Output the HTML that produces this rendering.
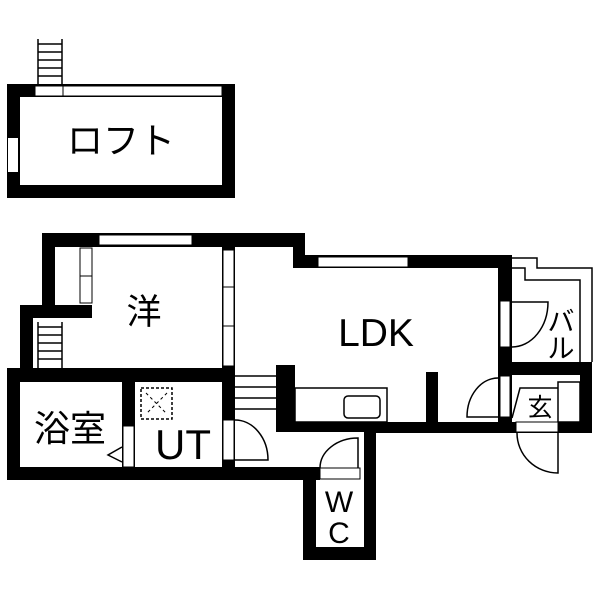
<!DOCTYPE html>
<html><head><style>body{margin:0;background:#fff}svg{display:block}text{font-family:"Liberation Sans","Noto Sans CJK JP",sans-serif;fill:#000}</style></head><body>
<svg width="600" height="600" viewBox="0 0 600 600" xmlns="http://www.w3.org/2000/svg">
<rect width="600" height="600" fill="#fff"/>
<!-- Loft -->
<rect x="7" y="84" width="228" height="114" fill="#000"/>
<rect x="20" y="97" width="202" height="88" fill="#fff"/>
<rect x="35" y="86" width="187" height="10" fill="#fff" stroke="#000" stroke-width="1"/>
<line x1="63" y1="86" x2="63" y2="96" stroke="#000"/>
<rect x="8" y="138" width="10" height="34" fill="#fff"/>
<g stroke="#000" stroke-width="1.5"><line x1="38" y1="39" x2="38" y2="85"/><line x1="62" y1="39" x2="62" y2="85"/>
<line x1="38" y1="44" x2="62" y2="44"/><line x1="38" y1="52" x2="62" y2="52"/><line x1="38" y1="60" x2="62" y2="60"/><line x1="38" y1="68" x2="62" y2="68"/><line x1="38" y1="76" x2="62" y2="76"/></g>
<text x="121" y="153" font-size="36" text-anchor="middle">ロフト</text>

<path d="M42 233 H305 V255 H512 V362 H592 V433 H376 V560 H303 V480 H7 V368 H20 V305 H42 Z" fill="#000"/>
<rect x="55" y="247" width="37" height="58" fill="#fff"/>
<rect x="33" y="318" width="189" height="50" fill="#fff"/>
<rect x="92" y="247" width="130" height="121" fill="#fff"/>
<rect x="20" y="382" width="102" height="85" fill="#fff"/>
<rect x="135" y="382" width="87" height="85" fill="#fff"/>
<rect x="235" y="247" width="58" height="118" fill="#fff"/>
<rect x="235" y="268" width="263" height="97" fill="#fff"/>
<rect x="295" y="365" width="203" height="57" fill="#fff"/>
<rect x="235" y="365" width="41" height="67" fill="#fff"/>
<rect x="235" y="432" width="129" height="35" fill="#fff"/>
<rect x="320" y="467" width="44" height="13" fill="#fff"/>
<rect x="316" y="480" width="48" height="67" fill="#fff"/>
<rect x="512" y="268" width="80" height="94" fill="#fff"/>
<rect x="512" y="375" width="68" height="47" fill="#fff"/>
<rect x="426" y="372" width="12" height="50" fill="#000"/>
<rect x="505" y="250" width="95" height="18" fill="#fff"/>
<path d="M498 258 H537 V268 H592 V362" fill="none" stroke="#000" stroke-width="1.5"/>
<path d="M512 268 H525 V280 H580 V362" fill="none" stroke="#000" stroke-width="1.5"/>
<rect x="498" y="255" width="14" height="13" fill="#000"/>
<rect x="99" y="235" width="93" height="10" fill="#fff" stroke="#000"/>
<rect x="318" y="257" width="90" height="10" fill="#fff" stroke="#000"/>
<rect x="80" y="248" width="12" height="55" fill="#fff" stroke="#000"/><line x1="80" y1="276" x2="92" y2="276" stroke="#000"/>
<rect x="223" y="250" width="11" height="116" fill="#fff" stroke="#000"/><line x1="223" y1="287" x2="234" y2="287" stroke="#000"/><line x1="223" y1="326" x2="234" y2="326" stroke="#000"/>
<g stroke="#000" stroke-width="1.5"><line x1="38" y1="322" x2="38" y2="368"/><line x1="62" y1="322" x2="62" y2="368"/>
<line x1="38" y1="327" x2="62" y2="327"/><line x1="38" y1="335" x2="62" y2="335"/><line x1="38" y1="343" x2="62" y2="343"/><line x1="38" y1="351" x2="62" y2="351"/><line x1="38" y1="359" x2="62" y2="359"/></g>
<rect x="123" y="426" width="11" height="41" fill="#fff" stroke="#000"/>
<path d="M122 447 L108 455 L122 462" fill="none" stroke="#000" stroke-width="1.5"/>
<rect x="141" y="388" width="31" height="31" fill="none" stroke="#000" stroke-dasharray="3,2" stroke-width="1.5"/>
<path d="M146 393 L167 414 M167 393 L146 414" stroke="#000" stroke-dasharray="3,3"/>
<rect x="223" y="420" width="11" height="40" fill="#fff" stroke="#000"/>
<path d="M235 420 A33 40 0 0 1 268 460 H235" fill="none" stroke="#000" stroke-width="1.5"/>
<g stroke="#000" stroke-width="1.5"><line x1="235" y1="376" x2="276" y2="376"/><line x1="235" y1="387" x2="276" y2="387"/><line x1="235" y1="398" x2="276" y2="398"/><line x1="235" y1="409" x2="276" y2="409"/></g>
<rect x="295" y="388" width="92" height="34" fill="#fff" stroke="#000" stroke-width="1.5"/>
<rect x="344" y="396" width="36" height="22" rx="4" fill="#fff" stroke="#000" stroke-width="1.5"/>
<rect x="500" y="301" width="10" height="46" fill="#fff" stroke="#000"/>
<path d="M512 302 H548 A36 45 0 0 1 512 347" fill="none" stroke="#000" stroke-width="1.5"/>
<rect x="500" y="376" width="10" height="41" fill="#fff" stroke="#000"/>
<path d="M498 378 A31 39 0 0 0 467 417 H498" fill="none" stroke="#000" stroke-width="1.5"/>
<path d="M512 418 L520 388 H558" fill="none" stroke="#000" stroke-width="1.5"/>
<rect x="558" y="382" width="22" height="40" fill="#fff" stroke="#000" stroke-width="1.5"/>
<rect x="516" y="422" width="42" height="10" fill="#fff" stroke="#000"/>
<path d="M558 433 V473 A41 40 0 0 1 517 433" fill="none" stroke="#000" stroke-width="1.5"/>
<rect x="320" y="468" width="40" height="11" fill="#fff" stroke="#000"/>
<path d="M320 468 A38 30 0 0 1 358 438 V468" fill="none" stroke="#000" stroke-width="1.5"/>
<text x="144" y="324" font-size="35" text-anchor="middle">洋</text>
<text x="376" y="346" font-size="39" text-anchor="middle">LDK</text>
<text x="70" y="441" font-size="36" text-anchor="middle">浴室</text>
<text x="183" y="459" font-size="42" text-anchor="middle">UT</text>
<text x="339" y="512" font-size="30" text-anchor="middle">W</text>
<text x="339" y="543" font-size="30" text-anchor="middle">C</text>
<text x="561" y="331" font-size="27" text-anchor="middle">バ</text>
<text x="561" y="358" font-size="27" text-anchor="middle">ル</text>
<text x="540" y="416" font-size="25" text-anchor="middle">玄</text>
</svg>
</body></html>
